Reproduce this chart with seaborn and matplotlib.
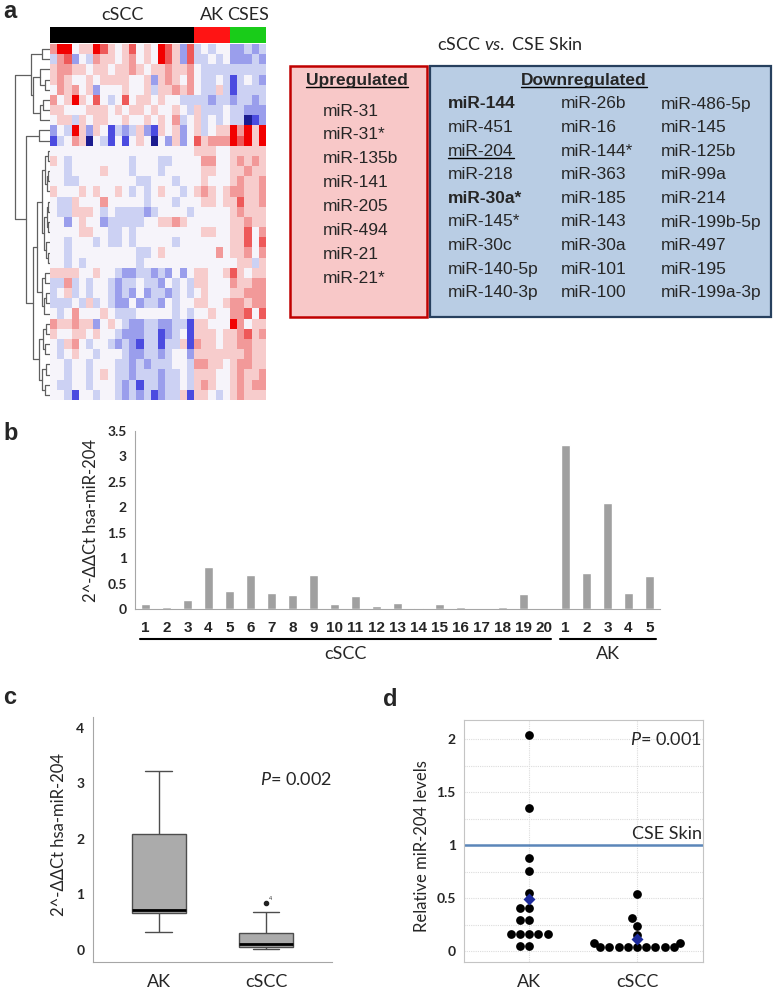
import numpy as np
import pandas as pd
import seaborn as sns
import matplotlib.pyplot as plt
from matplotlib.colors import ListedColormap
from matplotlib.patches import Rectangle
from matplotlib.ticker import MultipleLocator, FixedLocator
import matplotlib.transforms as mtransforms

# ---------------- data ----------------
# heatmap levels per miRNA row, one char per sample: '5' = 0, '1' = -4 (blue), '9' = +4 (red)
heat_cscc = [
    "79956698656856598638", "47835476656756598638", "67766566566765667667",
    "67655656666556367657", "57675635556556466767", "75696585458566565544",
    "66555666565665655654", "56646566556556565745", "35496365243463265635",
    "24576154252565153635", "55555555555555555555", "65455555555455544555",
    "55455556555455545555", "55445555555544555455", "65556565565454565545",
    "54465557555554555455", "54466654544443455554", "55356553444445566765",
    "55556655445455555555", "55455545445455555455", "55455555555544565555",
    "55454555555545555555", "66665565543344343535", "44745455434454435454",
    "45645455434353443454", "44454645433534435455", "54575556544455555454",
    "76676635654334433442", "65566565543334423452", "54675455434324424462",
    "54565545554334434553", "55455455544343444554", "55455456544344434454",
    "54455455543424434454", "55425545543434234462",
]
heat_ak = [
    "45455", "44545", "54444", "54454", "54464", "44344", "64445", "64545",
    "64566", "86777", "66655", "57755", "56655", "56555", "67656", "56656",
    "55555", "55555", "56655", "55555", "55575", "55555", "66556", "66555",
    "56555", "66556", "55655", "66555", "66656", "76656", "66666", "77665",
    "66655", "67655", "66545",
]
heat_cses = [
    "33434", "33343", "44444", "24543", "24444", "34434", "44333", "44123",
    "97969", "98969", "66666", "67676", "66766", "67667", "77667", "68667",
    "67666", "66766", "66857", "66858", "66757", "56646", "86566", "76677",
    "66777", "77677", "77858", "97566", "67867", "67766", "66766", "67766",
    "67667", "67677", "67666",
]
sample_groups = ["cSCC"] * 20 + ["AK"] * 5 + ["CSES"] * 5

# row dendrogram: (height, left, right), leaves are row indices
row_tree = (35,
            (19, (8, 0, 1), (17, (10, 2, (5, 3, 4)), (10, (7, 5, 6), 7))),
            (24, (11, 8, 9),
             (17,
              (13,
               (8, (5, (2, 10, 11), (3, (1.5, 12, 13), 14)),
                (6, (3, (2, 15, 16), (2, 17, 18)), (4, 19, (2, 20, 21)))),
               (8, (5, 22, 23), (6, (4, 24, 25), 26))),
              (11, (7, (4, 27, 28), (5, 29, 30)), (8, (4, 31, 32), (5, 33, 34))))))

up_mirs = ["miR-31", "miR-31*", "miR-135b", "miR-141", "miR-205", "miR-494",
           "miR-21", "miR-21*"]
down_col1 = ["miR-144", "miR-451", "miR-204", "miR-218", "miR-30a*", "miR-145*",
             "miR-30c", "miR-140-5p", "miR-140-3p"]
down_col2 = ["miR-26b", "miR-16", "miR-144*", "miR-363", "miR-185", "miR-143",
             "miR-30a", "miR-101", "miR-100"]
down_col3 = ["miR-486-5p", "miR-145", "miR-125b", "miR-99a", "miR-214",
             "miR-199b-5p", "miR-497", "miR-195", "miR-199a-3p"]
bold_mirs = {"miR-144", "miR-30a*"}
underlined_mirs = {"miR-204"}

# panel b / c: 2^-ddCt hsa-miR-204
cscc_204 = [0.10, 0.045, 0.18, 0.83, 0.36, 0.67, 0.31, 0.275, 0.67, 0.10,
            0.255, 0.06, 0.11, 0.01, 0.10, 0.04, 0.005, 0.03, 0.30, 0.005]
ak_204 = [3.22, 0.71, 2.08, 0.31, 0.65]

# panel d: relative miR-204 levels
rel_ak = [2.04, 1.35, 0.88, 0.76, 0.55, 0.41, 0.41, 0.29, 0.29,
          0.16, 0.16, 0.16, 0.16, 0.16, 0.05, 0.05]
rel_cscc = [0.54, 0.31, 0.24, 0.15, 0.08, 0.08,
            0.035, 0.035, 0.035, 0.035, 0.035, 0.035, 0.035, 0.035, 0.035]

# ---------------- style ----------------
sns.set_style("white")
plt.rcParams["font.family"] = ["Lato", "DejaVu Sans"]
plt.rcParams["mathtext.fontset"] = "custom"
plt.rcParams["mathtext.it"] = "Lato:italic"
plt.rcParams["mathtext.rm"] = "Lato"

ARIAL = ["Liberation Sans", "DejaVu Sans"]
AXIS_GRAY = "#a6a6a6"

W, H = 776, 992
fig = plt.figure(figsize=(W / 100, H / 100), dpi=100)


def place(x0, y0, x1, y1):
    return fig.add_axes([x0 / W, 1 - y1 / H, (x1 - x0) / W, (y1 - y0) / H])


over = place(0, 0, W, H)
over.set_xlim(0, W)
over.set_ylim(H, 0)
over.axis("off")

# panel letters
for letter, (lx, ly) in zip("abcd", [(3, 11), (3, 433), (3, 697), (383, 700)]):
    fig.text(lx / W, 1 - ly / H, letter, fontsize=17, fontweight="bold",
             family=ARIAL, va="center", ha="left")

# ---------------- panel a: heatmap ----------------
mat = np.array([[int(c) - 5 for c in a + b + c]
                for a, b, c in zip(heat_cscc, heat_ak, heat_cses)])
heat_colors = ["#1c1c90", "#4b4be0", "#9a9eec", "#ccd1f3", "#f6f4fa",
               "#f7cccc", "#f29999", "#ee5959", "#f20000"]
ax_hm = place(50, 44, 266, 400)
sns.heatmap(pd.DataFrame(mat), cmap=ListedColormap(heat_colors), vmin=-4.5, vmax=4.5,
            cbar=False, xticklabels=False, yticklabels=False, ax=ax_hm)

group_names = ["cSCC", "AK", "CSES"]
codes = [group_names.index(g) for g in sample_groups]
ax_grp = place(50, 27, 266, 43)
sns.heatmap(pd.DataFrame([codes]), cmap=ListedColormap(["black", "#ff1414", "#19cc19"]),
            vmin=-0.5, vmax=2.5, cbar=False, xticklabels=False, yticklabels=False, ax=ax_grp)
for g in group_names:
    idx = [i for i, s in enumerate(sample_groups) if s == g]
    ax_grp.text(np.mean(idx) + 0.5, -0.25, g, ha="center", va="bottom", fontsize=13)

ax_dn = place(14, 44, 50, 400)
ax_dn.set_ylim(len(mat), 0)
ax_dn.set_xlim(35.5, 0)
ax_dn.axis("off")


def draw_tree(ax, node):
    if not isinstance(node, tuple):
        return node + 0.5, 0
    h, left, right = node
    yl, hl = draw_tree(ax, left)
    yr, hr = draw_tree(ax, right)
    ax.plot([hl, h, h, hr], [yl, yl, yr, yr], color="#606060", lw=0.9)
    return (yl + yr) / 2, h


draw_tree(ax_dn, row_tree)

# lists of miRNAs
over.text(510, 45, r"cSCC $\mathit{vs.}$ CSE Skin", fontsize=13, ha="center", va="center")
over.add_patch(Rectangle((290, 66), 137, 251, facecolor="#f8c8c8", edgecolor="#c00000", lw=1.8))
over.add_patch(Rectangle((430, 66), 341, 251, facecolor="#b9cde4", edgecolor="#27405e", lw=1.6))

under_texts = []
t = over.text(357, 80, "Upregulated", fontsize=12.5, fontweight="bold", family=ARIAL,
              ha="center", va="center")
under_texts.append(t)
for i, m in enumerate(up_mirs):
    over.text(323, 111 + 23.9 * i, m, fontsize=12.5, family=ARIAL, ha="left", va="center")

t = over.text(584, 80, "Downregulated", fontsize=12.5, fontweight="bold", family=ARIAL,
              ha="center", va="center")
under_texts.append(t)
for col_x, col in zip([448, 561, 661], [down_col1, down_col2, down_col3]):
    for i, m in enumerate(col):
        t = over.text(col_x, 104 + 23.6 * i, m, fontsize=12.5, family=ARIAL, ha="left",
                      va="center", fontweight="bold" if m in bold_mirs else "normal")
        if m in underlined_mirs:
            under_texts.append(t)


def style_ticks(ax, xsize=13, xbold=False, xfamily=None):
    for lbl in ax.get_yticklabels():
        lbl.set_fontweight("bold")
        lbl.set_fontsize(10)
    for lbl in ax.get_xticklabels():
        lbl.set_fontsize(xsize)
        if xbold:
            lbl.set_fontweight("bold")
        if xfamily:
            lbl.set_family(xfamily)


# ---------------- panel b: bars ----------------
b_df = pd.DataFrame({
    "sample": [f"cSCC{i + 1}" for i in range(len(cscc_204))] + [f"AK{i + 1}" for i in range(len(ak_204))],
    "value": cscc_204 + ak_204,
})
b_labels = [str(i + 1) for i in range(len(cscc_204))] + [str(i + 1) for i in range(len(ak_204))]
ax_b = place(135, 431, 660, 609)
sns.barplot(data=b_df, x="sample", y="value", color="#a0a0a0", saturation=1, width=0.4,
            errorbar=None, ax=ax_b)
ax_b.set_xlim(-0.5, len(b_df) - 0.5)
ax_b.set_ylim(0, 3.5)
ax_b.set_yticks(np.arange(0, 3.51, 0.5))
ax_b.set_yticklabels([f"{v:g}" for v in np.arange(0, 3.51, 0.5)])
ax_b.set_xticks(range(len(b_df)))
ax_b.set_xticklabels(b_labels)
ax_b.xaxis.set_minor_locator(FixedLocator(np.arange(-0.5, len(b_df), 1)))
ax_b.tick_params(axis="x", which="major", length=0, pad=9)
ax_b.tick_params(axis="x", which="minor", length=3, color=AXIS_GRAY)
ax_b.tick_params(axis="y", length=3, color=AXIS_GRAY, pad=3)
sns.despine(ax=ax_b)
for s in ["left", "bottom"]:
    ax_b.spines[s].set_color(AXIS_GRAY)
ax_b.set_xlabel("")
ax_b.set_ylabel("2^-ΔΔCt hsa-miR-204", fontsize=12)
ax_b.yaxis.set_label_coords(-0.069, 0.5)
style_ticks(ax_b, xsize=11, xbold=True, xfamily=ARIAL)

trans_b = ax_b.get_xaxis_transform()
for g, lo, hi in [("cSCC", 0, len(cscc_204) - 1), ("AK", len(cscc_204), len(b_df) - 1)]:
    ax_b.plot([lo - 0.28, hi + 0.3], [-0.169, -0.169], transform=trans_b, clip_on=False,
              color="black", lw=1.5)
    ax_b.text((lo + hi) / 2, -0.255, g, transform=trans_b, ha="center", va="center", fontsize=13)

# ---------------- panel c: boxplot ----------------
c_df = pd.DataFrame({"group": ["AK"] * len(ak_204) + ["cSCC"] * len(cscc_204),
                     "value": ak_204 + cscc_204})
ax_c = place(92.7, 716.7, 332, 961.7)
sns.boxplot(data=c_df, x="group", y="value", order=["AK", "cSCC"], width=0.5,
            color="#ababab", saturation=1, linecolor="#4d4d4d", linewidth=1, fliersize=3,
            medianprops=dict(color="black", linewidth=2),
            flierprops=dict(marker="o", markerfacecolor="#222222", markeredgecolor="#222222"),
            ax=ax_c)
ax_c.set_xlim(-0.615, 1.615)
ax_c.set_ylim(-0.22, 4.2)
ax_c.set_yticks(range(5))
ax_c.tick_params(axis="x", length=4, color=AXIS_GRAY, pad=5)
ax_c.tick_params(axis="y", length=3, color=AXIS_GRAY, pad=3)
sns.despine(ax=ax_c)
for s in ["left", "bottom"]:
    ax_c.spines[s].set_color(AXIS_GRAY)
ax_c.set_xlabel("")
ax_c.set_ylabel("2^-ΔΔCt hsa-miR-204", fontsize=12)
ax_c.yaxis.set_label_coords(-0.109, 0.52)
style_ticks(ax_c)
q1, q3 = np.percentile(cscc_204, [25, 75])
for i, v in enumerate(cscc_204):
    if v > q3 + 1.5 * (q3 - q1):
        ax_c.text(1.03, v + 0.04, str(i + 1), fontsize=4, ha="left", va="bottom")
ax_c.text(0.944, 3.06, r"$\mathit{P}$= 0.002", fontsize=13, ha="left", va="center")

# ---------------- panel d: dot plot ----------------
d_df = pd.DataFrame({"group": ["AK"] * len(rel_ak) + ["cSCC"] * len(rel_cscc),
                     "value": rel_ak + rel_cscc})
ax_d = place(464, 720, 702.7, 961.7)
ax_d.set_axisbelow(True)
ax_d.axhline(1, color="#5b86b9", lw=1.8, zorder=1)
sns.swarmplot(data=d_df, x="group", y="value", order=["AK", "cSCC"], color="black",
              size=6.3, zorder=3, ax=ax_d)
sns.pointplot(data=d_df, x="group", y="value", order=["AK", "cSCC"], estimator="mean",
              errorbar=None, color="#1c2a9c", marker="D", markersize=4, linestyle="none",
              zorder=4, ax=ax_d)
ax_d.set_xlim(-0.605, 1.61)
ax_d.set_ylim(-0.1, 2.18)
ax_d.set_yticks([0, 0.5, 1, 1.5, 2])
ax_d.set_yticklabels(["0", "0.5", "1", "1.5", "2"])
ax_d.yaxis.set_minor_locator(MultipleLocator(0.25))
ax_d.grid(which="both", axis="y", color="#dcdcdc", ls=(0, (1, 1)), lw=0.8)
ax_d.grid(which="major", axis="x", color="#dcdcdc", ls=(0, (1, 1)), lw=0.8)
ax_d.tick_params(axis="x", length=3, color=AXIS_GRAY, pad=6)
ax_d.tick_params(axis="y", which="major", length=3, color=AXIS_GRAY, pad=3)
ax_d.tick_params(axis="y", which="minor", length=0)
for s in ax_d.spines.values():
    s.set_visible(True)
    s.set_color("#c4c4c4")
ax_d.set_xlabel("")
ax_d.set_ylabel("Relative miR-204 levels", fontsize=12)
ax_d.yaxis.set_label_coords(-0.142, 0.48)
style_ticks(ax_d)
trans_d = mtransforms.blended_transform_factory(ax_d.transAxes, ax_d.transData)
ax_d.text(0.995, 1.03, "CSE Skin", transform=trans_d, ha="right", va="bottom", fontsize=13)
ax_d.text(0.939, 2.0, r"$\mathit{P}$= 0.001", fontsize=13, ha="left", va="center")

# underline headers / miR-204
fig.canvas.draw()
inv = over.transData.inverted()
for t in under_texts:
    bb = t.get_window_extent()
    (x0, y0), (x1, _) = inv.transform([(bb.x0, bb.y0), (bb.x1, bb.y0)])
    over.plot([x0, x1], [y0 - 0.5, y0 - 0.5], color="black", lw=1)

fig.savefig("out.png", dpi=100)
